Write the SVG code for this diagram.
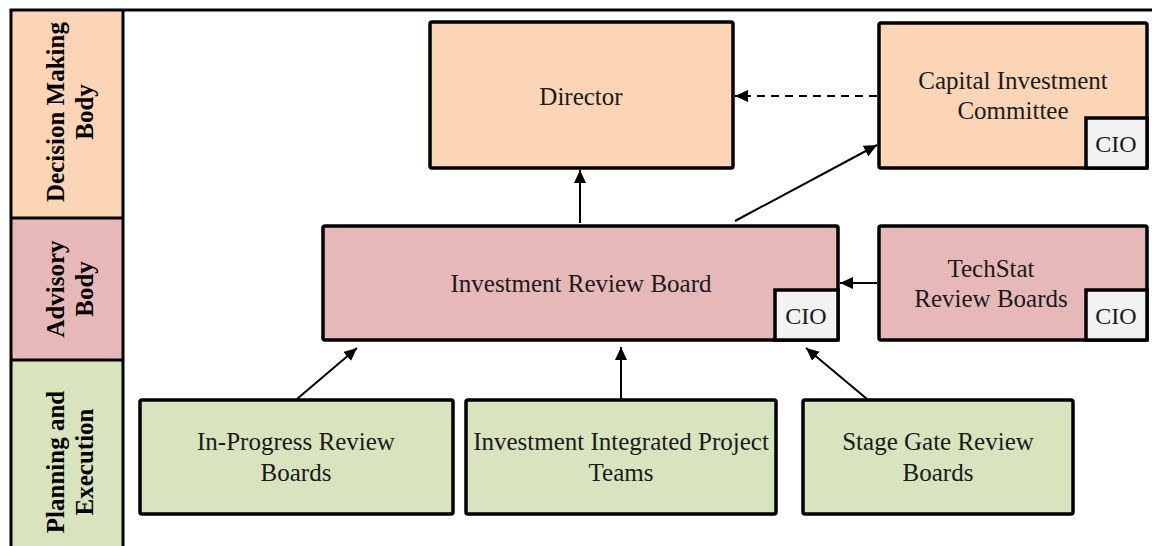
<svg xmlns="http://www.w3.org/2000/svg" width="1152" height="546" viewBox="0 0 1152 546">
<style>
.box{stroke:#000;stroke-width:3.5}
.dec{fill:#FBD5B5}
.adv{fill:#E6B9B8}
.pln{fill:#D7E4BD}
.cio{fill:#F2F2F2;stroke:#000;stroke-width:3.5}
.ln{stroke:#000;stroke-width:2;fill:none}
.frame{stroke:#000;stroke-width:3;fill:none}
</style>
<defs>
<marker id="ah" markerUnits="userSpaceOnUse" markerWidth="14" markerHeight="12" refX="13" refY="6" orient="auto">
<path d="M0,0 L13,6 L0,12 Z" fill="#000"/>
</marker>
</defs>
<rect x="0" y="0" width="1152" height="546" fill="#fff"/>
<g id="sidebar">
<rect x="11" y="10" width="112" height="208" class="dec"/>
<rect x="11" y="218" width="112" height="142" class="adv"/>
<rect x="11" y="360" width="112" height="190" class="pln"/>
<line x1="11" y1="218" x2="123" y2="218" class="frame"/>
<line x1="11" y1="360" x2="123" y2="360" class="frame"/>
<line x1="11" y1="10" x2="11" y2="546" class="frame"/>
<line x1="123" y1="10" x2="123" y2="546" class="frame"/>
<line x1="9.5" y1="10" x2="1152" y2="10" class="frame"/>
<g font-family="Liberation Serif, serif" font-size="25" font-weight="bold" fill="#000" text-anchor="middle">
<text transform="translate(64,112) rotate(-90)">Decision Making</text>
<text transform="translate(93,112) rotate(-90)">Body</text>
<text transform="translate(64,289) rotate(-90)">Advisory</text>
<text transform="translate(93,289) rotate(-90)">Body</text>
<text transform="translate(64,462) rotate(-90)">Planning and</text>
<text transform="translate(93,462) rotate(-90)">Execution</text>
</g>
</g>
<g id="connectors">
<line x1="580" y1="223" x2="580" y2="170" class="ln" marker-end="url(#ah)"/>
<line x1="735" y1="221" x2="877" y2="145" class="ln" marker-end="url(#ah)"/>
<line x1="877" y1="283" x2="840" y2="283" class="ln" marker-end="url(#ah)"/>
<line x1="877" y1="96" x2="735" y2="96" class="ln" stroke-dasharray="8,6" marker-end="url(#ah)"/>
<line x1="297" y1="399" x2="357" y2="348" class="ln" marker-end="url(#ah)"/>
<line x1="621" y1="399" x2="621" y2="347" class="ln" marker-end="url(#ah)"/>
<line x1="867" y1="399" x2="806" y2="348" class="ln" marker-end="url(#ah)"/>
</g>
<g font-family="Liberation Serif, serif" font-size="25" fill="#1a1a1a" text-anchor="middle">
<g id="director">
<rect x="430" y="22" width="303" height="146" rx="2" class="box dec"/>
<text x="581" y="105">Director</text>
</g>
<g id="cic">
<rect x="879" y="23" width="268" height="145" rx="2" class="box dec"/>
<rect x="1086" y="118" width="61" height="50" class="cio"/>
<text x="1013" y="89">Capital Investment</text>
<text x="1013" y="119">Committee</text>
<text font-size="24" x="1116" y="152">CIO</text>
</g>
<g id="irb">
<rect x="323" y="226" width="515" height="114" rx="2" class="box adv"/>
<rect x="775" y="290" width="63" height="50" class="cio"/>
<text x="581" y="292">Investment Review Board</text>
<text font-size="24" x="806" y="324">CIO</text>
</g>
<g id="techstat">
<rect x="879" y="226" width="268" height="114" rx="2" class="box adv"/>
<rect x="1086" y="290" width="61" height="50" class="cio"/>
<text x="991" y="277">TechStat</text>
<text x="991" y="307">Review Boards</text>
<text font-size="24" x="1116" y="324">CIO</text>
</g>
<g id="iprb">
<rect x="140" y="400" width="313" height="114" rx="2" class="box pln"/>
<text x="296" y="450">In-Progress Review</text>
<text x="296" y="481">Boards</text>
</g>
<g id="iipt">
<rect x="466" y="400" width="310" height="114" rx="2" class="box pln"/>
<text x="621" y="450">Investment Integrated Project</text>
<text x="621" y="481">Teams</text>
</g>
<g id="sgrb">
<rect x="803" y="400" width="270" height="114" rx="2" class="box pln"/>
<text x="938" y="450">Stage Gate Review</text>
<text x="938" y="481">Boards</text>
</g>
</g>
</svg>
